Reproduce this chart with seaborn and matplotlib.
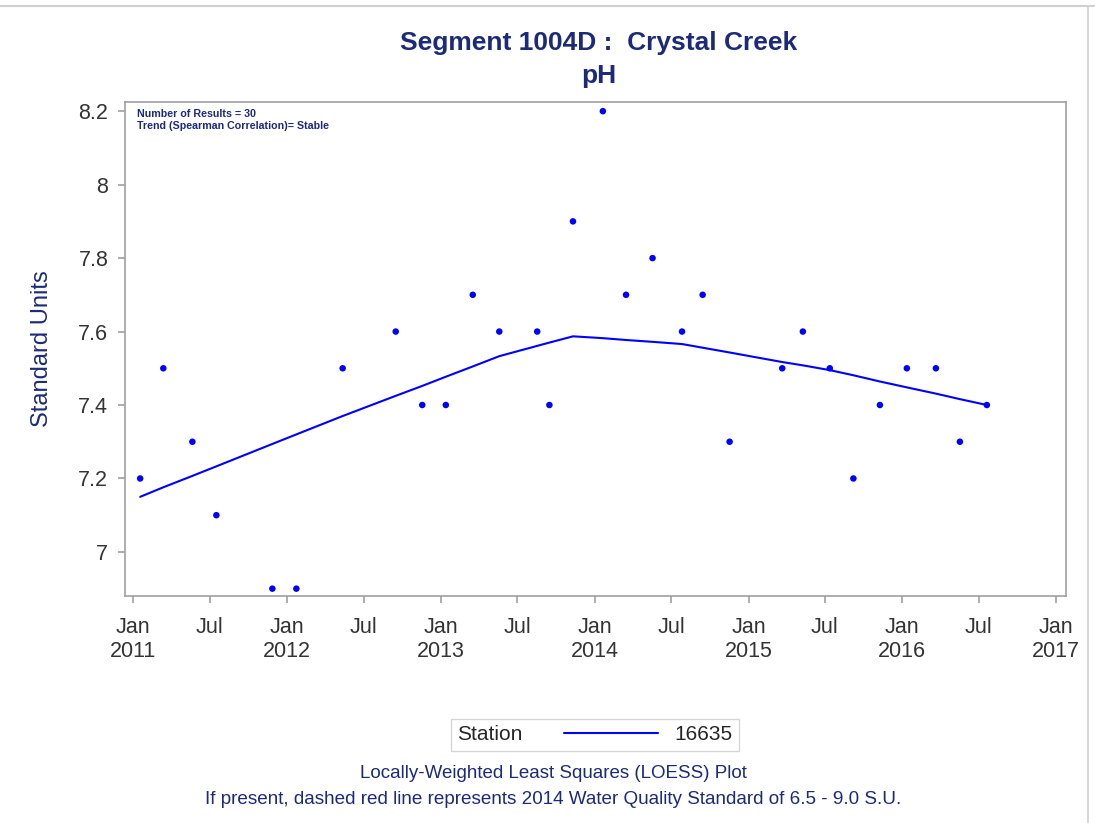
import pandas as pd
import seaborn as sns
import matplotlib.pyplot as plt
from matplotlib.lines import Line2D
from matplotlib.offsetbox import HPacker

# Sample dates and pH readings
dates = ['2011-01-17', '2011-03-13', '2011-05-21', '2011-07-17', '2011-11-27',
         '2012-01-23', '2012-05-12', '2012-09-15', '2012-11-17', '2013-01-12',
         '2013-03-17', '2013-05-19', '2013-08-17', '2013-09-15', '2013-11-10',
         '2014-01-20', '2014-03-16', '2014-05-18', '2014-07-27', '2014-09-14',
         '2014-11-17', '2015-03-22', '2015-05-10', '2015-07-13', '2015-09-07',
         '2015-11-09', '2016-01-12', '2016-03-21', '2016-05-17', '2016-07-20']
ph = [7.2, 7.5, 7.3, 7.1, 6.9, 6.9, 7.5, 7.6, 7.4, 7.4,
      7.7, 7.6, 7.6, 7.4, 7.9, 8.2, 7.7, 7.8, 7.6, 7.7,
      7.3, 7.5, 7.6, 7.5, 7.2, 7.4, 7.5, 7.5, 7.3, 7.4]
# LOESS fit values at each sample date
loess = [7.150, 7.176, 7.207, 7.233, 7.294, 7.320, 7.370, 7.425, 7.452, 7.477,
         7.505, 7.533, 7.561, 7.570, 7.587, 7.582, 7.577, 7.572, 7.566, 7.556,
         7.543, 7.517, 7.508, 7.495, 7.481, 7.464, 7.448, 7.431, 7.416, 7.400]
station = '16635'

df = pd.DataFrame({'Date': pd.to_datetime(dates), 'pH': ph, 'LOESS': loess})

sns.set_style('ticks')
plt.rcParams['font.family'] = ['Liberation Sans', 'DejaVu Sans']

navy = '#1c2a7a'
blue = '#0000ff'

fig = plt.figure(figsize=(10.95, 8.23), dpi=100)
ax = fig.add_axes([125 / 1095, 1 - 596 / 823, (1066 - 125) / 1095, (596 - 102) / 823])

sns.lineplot(data=df, x='Date', y='LOESS', color=blue, linewidth=1.5, ax=ax)
sns.scatterplot(data=df, x='Date', y='pH', color=blue, s=22, edgecolor='none', ax=ax)

ax.set_xlim(pd.Timestamp('2010-12-12'), pd.Timestamp('2017-01-24'))
ax.set_ylim(6.88, 8.225)
ax.set_yticks([7.0, 7.2, 7.4, 7.6, 7.8, 8.0, 8.2])
ax.set_yticklabels(['7', '7.2', '7.4', '7.6', '7.8', '8', '8.2'])

ticks = pd.date_range('2011-01-01', '2017-01-01', freq='6MS')
ax.set_xticks(ticks)
ax.set_xticklabels([f'Jan\n{d.year}' if d.month == 1 else 'Jul' for d in ticks])

for s in ax.spines.values():
    s.set_color('#a0a0a0')
    s.set_linewidth(1.2)
ax.tick_params(axis='both', colors='#a0a0a0', labelcolor='#333333',
               labelsize=15.5, length=5, width=1.2)
ax.tick_params(axis='x', pad=10)
ax.tick_params(axis='y', pad=7)
ax.set_xlabel('')
ax.set_ylabel('Standard Units', fontsize=17, color=navy, labelpad=18)

ax.text(0.013, 0.985, 'Number of Results = 30\nTrend (Spearman Correlation)= Stable',
        transform=ax.transAxes, ha='left', va='top', fontsize=7.7,
        fontweight='bold', color=navy, linespacing=1.2)

fig.text(0.547, 1 - 43 / 823, 'Segment 1004D :  Crystal Creek', ha='center', va='center',
         fontsize=19, fontweight='bold', color=navy)
fig.text(0.547, 1 - 76 / 823, 'pH', ha='center', va='center',
         fontsize=19, fontweight='bold', color=navy)

handle = Line2D([], [], color=blue, linewidth=1.5)
leg = fig.legend([handle], [station], title='Station', loc='center',
                 bbox_to_anchor=(595 / 1095, 1 - 735 / 823), ncol=1,
                 fontsize=15, title_fontsize=15, handlelength=4.5,
                 frameon=True, fancybox=False, edgecolor='#cccccc',
                 borderpad=0.3, handletextpad=0.8)
# put title beside the entry
leg._legend_box._children = [HPacker(children=list(leg._legend_box.get_children()),
                                     align='center', sep=30, pad=0)]

fig.text(0.505, 1 - 774 / 823, 'Locally-Weighted Least Squares (LOESS) Plot',
         ha='center', va='center', fontsize=13.5, color=navy)
fig.text(0.505, 1 - 799 / 823,
         'If present, dashed red line represents 2014 Water Quality Standard of 6.5 - 9.0 S.U.',
         ha='center', va='center', fontsize=13.6, color=navy)

fig.add_artist(Line2D([0, 1], [1 - 6 / 823] * 2, color='#d0d0d0', linewidth=1.5))
fig.add_artist(Line2D([1088 / 1095] * 2, [0, 1 - 6 / 823], color='#d0d0d0', linewidth=1.2))

fig.savefig('out.png', dpi=100)
